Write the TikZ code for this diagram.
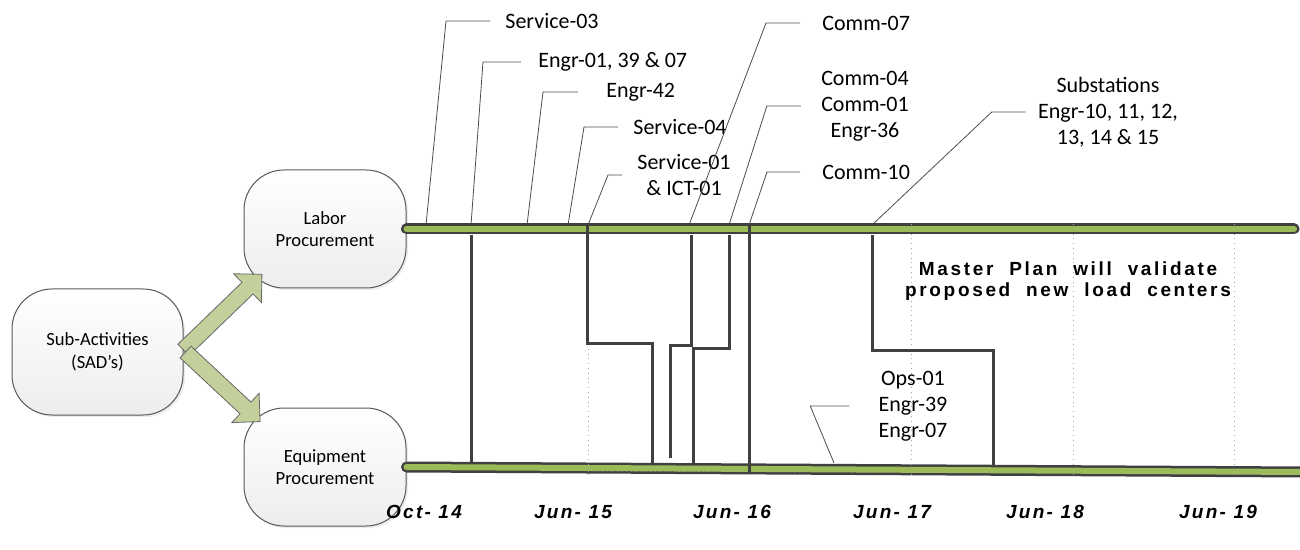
\documentclass[tikz,border=0pt]{standalone}
\usepackage{fontspec}
\setmainfont{Carlito}
\newfontfamily\datefont[LetterSpace=12]{Liberation Sans}
\newfontfamily\planfont[LetterSpace=14, WordSpace=2]{Liberation Sans}
\usetikzlibrary{shadows}

\definecolor{barGreen}{HTML}{9BBB59}
\definecolor{barDark}{HTML}{404040}
\definecolor{arrowGreen}{HTML}{C3D09B}
\definecolor{boxEdge}{HTML}{595959}

\begin{document}
\begin{tikzpicture}[x=0.5pt, y=-0.5pt,
    procbox/.style={draw=boxEdge, line width=0.5pt, rounded corners=20pt,
        top color=white, bottom color=black!7, align=center,
        minimum width=81pt, minimum height=59pt, inner sep=2pt,
        font=\fontsize{9.3}{11.2}\selectfont,
        drop shadow={shadow xshift=1pt, shadow yshift=-1pt, opacity=0.15}},
    lbl/.style={inner sep=0pt, align=center, font=\fontsize{11}{13}\selectfont},
    leader/.style={black!70, line width=0.4pt},
    link/.style={barDark, line width=1.5pt},
    grid/.style={gray!70, line width=0.4pt, dotted},
    barout/.style={barDark, line width=5.5pt, line cap=round},
    barin/.style={barGreen, line width=3pt, line cap=round},
    fatarrow/.style={fill=arrowGreen, draw=gray!80!black, line width=0.4pt},
    datelbl/.style={inner sep=0pt, font=\datefont\bfseries\itshape\fontsize{9.5}{11}\selectfont}]
    \useasboundingbox (0,0) rectangle (1300,550);

    % ==== BOXES ====
    \node[procbox, minimum width=85.5pt, minimum height=63pt] (sad) at (97.5,352) {Sub-Activities\\(SAD's)};
    \node[procbox] (lab) at (325,229) {Labor\\Procurement};
    \node[procbox] (eqp) at (325,467) {Equipment\\Procurement};

    % ==== ARROWS ====
    \filldraw[fatarrow, shift={([yshift=1pt]sad.east)}, rotate=44]
        (0,-8) -- (89,-8) -- (89,-20) -- (109,0) -- (89,20) -- (89,8) -- (0,8) -- cycle;
    \filldraw[fatarrow, shift={([xshift=1pt]sad.east)}, rotate=-43]
        (0,-8) -- (82,-8) -- (82,-20) -- (102,0) -- (82,20) -- (82,8) -- (0,8) -- cycle;

    % ==== LABELS ====
    \node[lbl, anchor=west] (s03) at (505,21) {Service-03};
    \node[lbl, anchor=west] (e01) at (538,62) {Engr-01, 39 \& 07};
    \node[lbl, anchor=west] (e42) at (606,92) {Engr-42};
    \node[lbl, anchor=west] (s04) at (633,127) {Service-04};
    \node[lbl] (s01) at (684,175) {Service-01\\\& ICT-01};
    \node[lbl, anchor=west] (c07) at (822,23) {Comm-07};
    \node[lbl] (c04) at (865,106) {Comm-04\\Comm-01\\Engr-36};
    \node[lbl, anchor=west] (c10) at (822,172) {Comm-10};
    \node[lbl] (subst) at (1108,112) {Substations\\Engr-10, 11, 12,\\13, 14 \& 15};
    \node[lbl] (ops) at (913,406) {Ops-01\\Engr-39\\Engr-07};

    % ==== LEADERS ====
    \draw[leader] ([xshift=-7.5pt]s03.west) -- ++(-44,0) -- (426,225) coordinate (p03);
    \draw[leader] ([xshift=-8.5pt]e01.west) -- ++(-38,0) -- (471,225) coordinate (p01);
    \draw[leader] ([xshift=-14pt]e42.west) -- ++(-35,0) -- (527,225) coordinate (p42);
    \draw[leader] ([xshift=-7.5pt]s04.west) -- ++(-34,0) -- (568,225) coordinate (p04);
    \draw[leader] ([xshift=-7.5pt]s01.west) -- ++(-14,0) -- (588,225) coordinate (pi01);
    \draw[leader] ([xshift=-11pt]c07.west) -- ++(-34,0) -- (689,225) coordinate (pc07);
    \draw[leader] ([xshift=-10pt]c04.west) -- ++(-34,0) -- (729,225) coordinate (pc04);
    \draw[leader] ([xshift=-11pt]c10.west) -- ++(-33,0) -- (749,225) coordinate (pc10);
    \draw[leader] ([xshift=-6pt]subst.west) -- ++(-34,0) -- (872,225) coordinate (psub);
    \draw[leader] ([xshift=-14.5pt]ops.west) -- ++(-39,0) -- (834,463) coordinate (pops);

    % ==== BARS ====
    \coordinate (topEnd) at (1294,229);
    \coordinate (botEnd) at (1306,472);
    \draw[barout] (lab.east) -- (topEnd);
    \draw[barin] (lab.east) -- (topEnd);
    \draw[barout] (eqp.east) -- (botEnd);
    \draw[barin] (eqp.east) -- (botEnd);

    % ==== GRID ====
    \foreach \gx in {588,750,911,1073,1234}{
        \draw[grid] (\gx,224) -- (\gx,475);
    }
    \draw[grid] (588,471) -- (1300,474);

    % ==== LINKS ====
    \draw[link] (471,235) -- (471,463);
    \draw[link] (587,224) -- (587,344) -- (652,344) -- (652,463);
    \draw[link] (691,235) -- (691,346) -- (670,346) -- (670,458);
    \draw[link] (729,235) -- (729,349) -- (693,349) -- (693,463);
    \draw[link] (749,224) -- (749,474);
    \draw[link] (872,235) -- (872,351) -- (993,351) -- (993,465);

    % ==== NOTE ====
    \node[font=\planfont\bfseries\fontsize{9.5}{10.5}\selectfont, align=center] (plan) at (1068,281)
        {Master Plan will validate\\proposed new load centers};

    % ==== DATES ====
    \foreach \dx/\dt in {424/Oct- 14, 573/Jun- 15, 732/Jun- 16, 892/Jun- 17, 1045/Jun- 18, 1218/Jun- 19}{
        \node[datelbl] (date\dx) at (\dx,512) {\dt};
    }
\end{tikzpicture}
\end{document}
